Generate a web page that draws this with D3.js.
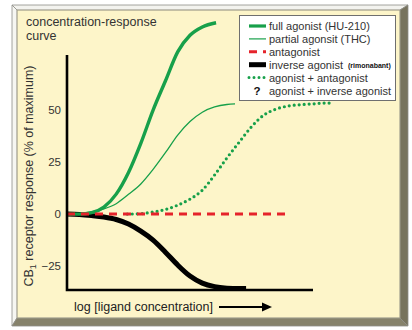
<!DOCTYPE html>
<html>
<head>
<meta charset="utf-8">
<script src="https://cdn.jsdelivr.net/npm/d3@7"></script>
<style>
  html, body { margin: 0; padding: 0; background: #ffffff; }
  svg { display: block; }
  text { font-family: "Liberation Sans", Arial, Helvetica, sans-serif; }
</style>
</head>
<body>
<svg id="chart" width="412" height="330"></svg>
<script>
// x: log [ligand concentration] in arbitrary log units; y: response (% of maximum)
const fullAgonistX = [0, 0.5, 1, 1.5, 2, 2.5, 3, 3.5, 4, 4.5, 5, 5.5, 6.06];
const fullAgonistY = [0, 0, 0.7, 3.4, 9.6, 20, 34, 50, 64, 78, 86, 90, 92];

const partialAgonistX = [0, 0.5, 1, 1.5, 2, 2.5, 3, 3.5, 4, 4.5, 5, 5.5, 6, 6.5, 6.83];
const partialAgonistY = [0, 0.2, 1, 2.5, 5, 9.5, 14.5, 21.5, 29.5, 38, 44.5, 49, 51.5, 52.7, 53];

const antagonistX = [0, 9.07];
const antagonistY = [0, 0];

const inverseAgonistX = [0, 0.5, 1, 1.5, 2, 2.5, 3, 3.5, 4, 4.5, 5, 5.5, 6, 6.5, 7, 7.28];
const inverseAgonistY = [0, -0.2, -0.7, -1.4, -2.6, -4.8, -8.2, -12.5, -18.3, -24.5, -29.8, -33.2, -34.9, -35.6, -35.8, -35.8];

const agonistAntagonistX = [2.45, 3, 3.5, 4, 4.5, 5, 5.5, 6, 6.5, 7, 7.5, 8, 8.5, 9, 9.5, 10, 10.5, 10.7];
const agonistAntagonistY = [0, 0.2, 1, 2.2, 4.3, 7.2, 11.5, 18.8, 27, 34.6, 42, 47.6, 50.5, 52, 52.6, 53, 53.4, 53.4];

const yTickValues = [-25, 0, 25, 50];
const legendLabels = [
  "full agonist (HU-210)",
  "partial agonsit (THC)",
  "antagonist",
  "inverse agonist",
  "agonist + antagonist",
  "agonist + inverse agonist"
];

const GREEN = "#17a04a";
const RED = "#e5232b";
const CREAM = "#fdf5c9";
const TEXT = "#333333";

const svg = d3.select("#chart");

// ---- bevelled frame ----
const fx0 = 12, fy0 = 5, fx1 = 408, fy1 = 326;   // outer
const ix0 = 17, iy0 = 10, ix1 = 400, iy1 = 318;  // inner panel
const frame = svg.append("g");
frame.append("rect").attr("x", ix0).attr("y", iy0)
  .attr("width", ix1 - ix0).attr("height", iy1 - iy0).attr("fill", CREAM);
const bevels = [
  { pts: [[fx0, fy0], [fx1, fy0], [ix1, iy0], [ix0, iy0]], fill: "#f3f3ef" },
  { pts: [[fx0, fy0], [ix0, iy0], [ix0, iy1], [fx0, fy1]], fill: "#f6f6f2" },
  { pts: [[fx1, fy0], [fx1, fy1], [ix1, iy1], [ix1, iy0]], fill: "#77735d" },
  { pts: [[fx0, fy1], [fx1, fy1], [ix1, iy1], [ix0, iy1]], fill: "#86826b" }
];
frame.selectAll("polygon.bevel").data(bevels).enter().append("polygon")
  .attr("class", "bevel")
  .attr("points", d => d.pts.map(p => p.join(",")).join(" "))
  .attr("fill", d => d.fill)
  .attr("stroke", "#8e8e88").attr("stroke-width", 0.8).attr("stroke-linejoin", "round");
frame.append("rect").attr("x", ix0).attr("y", iy0)
  .attr("width", ix1 - ix0).attr("height", iy1 - iy0)
  .attr("fill", "none").attr("stroke", "#a8a48a").attr("stroke-width", 0.6);

// ---- title ----
const title = svg.append("text").attr("x", 26).attr("y", 26)
  .attr("font-size", 12.5).attr("fill", TEXT);
title.append("tspan").attr("x", 26).text("concentration-response");
title.append("tspan").attr("x", 26).attr("dy", 13.5).text("curve");

// ---- scales ----
const x = d3.scaleLinear().domain([0, 10]).range([67, 313]);
const y = d3.scaleLinear().domain([-36.5, 76.5]).range([290, 55]);

const line = d3.line()
  .x(d => x(d[0])).y(d => y(d[1]))
  .curve(d3.curveMonotoneX);
const zip = (xs, ys) => xs.map((v, i) => [v, ys[i]]);

const plot = svg.append("g");

// inverse agonist
plot.append("path").datum(zip(inverseAgonistX, inverseAgonistY))
  .attr("d", line).attr("fill", "none").attr("stroke", "#000")
  .attr("stroke-width", 5).attr("stroke-linecap", "butt");

// partial agonist
plot.append("path").datum(zip(partialAgonistX, partialAgonistY))
  .attr("d", line).attr("fill", "none").attr("stroke", GREEN)
  .attr("stroke-width", 1.3);

// full agonist
plot.append("path").datum(zip(fullAgonistX, fullAgonistY))
  .attr("d", line).attr("fill", "none").attr("stroke", GREEN)
  .attr("stroke-width", 3.4);

// agonist + antagonist
plot.append("path").datum(zip(agonistAntagonistX, agonistAntagonistY))
  .attr("d", line).attr("fill", "none").attr("stroke", GREEN)
  .attr("stroke-width", 3.2).attr("stroke-linecap", "round")
  .attr("stroke-dasharray", "0 5");

// antagonist
plot.append("path").datum(zip(antagonistX, antagonistY))
  .attr("d", line).attr("fill", "none").attr("stroke", RED)
  .attr("stroke-width", 3).attr("stroke-dasharray", "8 6");

// ---- axes ----
plot.append("path")
  .attr("d", `M${x(0)},${y.range()[1]} L${x(0)},${y.range()[0]} L${x(10)},${y.range()[0]}`)
  .attr("fill", "none").attr("stroke", "#000").attr("stroke-width", 2.6)
  .attr("stroke-linejoin", "miter");

const yAxis = svg.append("g").attr("transform", `translate(${x(0) - 6},0)`)
  .call(d3.axisLeft(y).tickValues(yTickValues).tickSize(0).tickPadding(0)
    .tickFormat(d3.format("d")));
yAxis.select(".domain").remove();
yAxis.selectAll("text")
  .attr("font-family", "'Liberation Sans', Arial, sans-serif")
  .attr("font-size", 11.5).attr("fill", TEXT);

// y label
const yl = svg.append("text")
  .attr("transform", `translate(33,176) rotate(-90)`)
  .attr("text-anchor", "middle").attr("font-size", 12.5).attr("fill", TEXT);
yl.append("tspan").text("CB");
yl.append("tspan").attr("font-size", 9).attr("dy", 3).text("1");
yl.append("tspan").attr("dy", -3).text(" receptor response (% of maximum)");

// x label with arrow
svg.append("text").attr("x", 74).attr("y", 311)
  .attr("font-size", 12.5).attr("fill", "#222")
  .text("log [ligand concentration]");
svg.append("line").attr("x1", 219).attr("x2", 264).attr("y1", 307).attr("y2", 307)
  .attr("stroke", "#000").attr("stroke-width", 2);
svg.append("polygon").attr("points", "272,307 262,302.5 262,311.5").attr("fill", "#000");

// ---- legend ----
const lg = svg.append("g");
lg.append("rect").attr("x", 239.5).attr("y", 15.5).attr("width", 156).attr("height", 85)
  .attr("fill", "#ffffff").attr("stroke", "#6f6f6f").attr("stroke-width", 1);

const rowY = i => 26 + i * 12.9;
const sx0 = 249, sx1 = 266;
const samples = [
  { stroke: GREEN, w: 3.2 },
  { stroke: GREEN, w: 1.2 },
  { stroke: RED, w: 3, dash: "8 6" },
  { stroke: "#000", w: 5 },
  { stroke: GREEN, w: 3, dash: "0 5", cap: "round" },
  null
];
samples.forEach((s, i) => {
  if (!s) return;
  lg.append("line").attr("x1", sx0).attr("x2", sx1)
    .attr("y1", rowY(i)).attr("y2", rowY(i))
    .attr("stroke", s.stroke).attr("stroke-width", s.w)
    .attr("stroke-dasharray", s.dash || null)
    .attr("stroke-linecap", s.cap || "butt");
});
lg.append("text").attr("x", 257).attr("y", rowY(5) + 4).attr("text-anchor", "middle")
  .attr("font-size", 11.5).attr("font-weight", "bold").attr("fill", "#111").text("?");

legendLabels.forEach((t, i) => {
  const tx = lg.append("text").attr("x", 269).attr("y", rowY(i) + 4)
    .attr("font-size", 11).attr("fill", TEXT).text(t);
  if (i === 3) {
    tx.append("tspan").attr("font-size", 7).attr("font-weight", "bold")
      .attr("fill", "#111").attr("dx", 5).attr("dy", -0.5).text("(rimonabant)");
  }
});
</script>
</body>
</html>
